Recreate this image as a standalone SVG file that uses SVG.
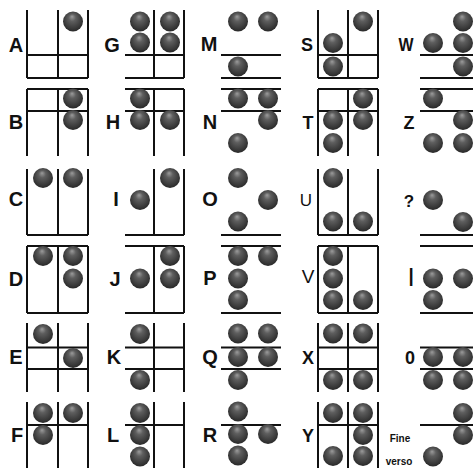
<svg xmlns="http://www.w3.org/2000/svg" width="473" height="468" viewBox="0 0 473 468">
<style>
.ln{stroke:#111;stroke-width:2;fill:none}
.lb{font-family:"Liberation Sans",Arial,sans-serif;font-weight:bold;font-size:20px;text-anchor:middle;fill:#111}
.sm{font-size:18px}
.th{font-weight:normal}
.tx{font-family:"Liberation Sans",Arial,sans-serif;font-weight:bold;font-size:10px;fill:#111;text-anchor:middle}
</style>
<defs>
<radialGradient id="g" cx="0.5" cy="0.45" r="0.6" fx="0.45" fy="0.25">
<stop offset="0" stop-color="#9c9c9c"/>
<stop offset="0.3" stop-color="#5e5e5e"/>
<stop offset="0.75" stop-color="#393939"/>
<stop offset="1" stop-color="#232323"/>
</radialGradient>
<circle id="b" cx="0" cy="0" r="10" fill="url(#g)"/>
</defs>
<rect width="473" height="468" fill="#fff"/>

<!-- Column 1 -->
<g id="sym-A">
<text class="lb" x="16" y="52">A</text>
<path class="ln" d="M27,10V78M58,10V78M88,10V78M27,55H88M27,78H88"/>
<use href="#b" x="73" y="21.5"/>
</g>
<g id="sym-B">
<text class="lb" x="16" y="128.5">B</text>
<path class="ln" d="M27,89V156M58,89V156M88,89V156M27,89H88M27,111H88"/>
<use href="#b" x="73" y="98.5"/><use href="#b" x="73" y="120"/>
</g>
<g id="sym-C">
<text class="lb" x="16" y="206">C</text>
<path class="ln" d="M27,169V235M58,169V235M88,169V235M27,235H88"/>
<use href="#b" x="43" y="178"/><use href="#b" x="73" y="178"/>
</g>
<g id="sym-D">
<text class="lb" x="16" y="286">D</text>
<path class="ln" d="M27,246V313M58,246V313M88,246V313M27,246H88M27,313H88"/>
<use href="#b" x="43" y="256"/><use href="#b" x="73" y="256"/><use href="#b" x="73" y="278.5"/>
</g>
<g id="sym-E">
<text class="lb" x="16" y="364">E</text>
<path class="ln" d="M27,323V392M58,323V392M88,323V392M27,347.5H88M27,369H88"/>
<use href="#b" x="43" y="334"/><use href="#b" x="73" y="358"/>
</g>
<g id="sym-F">
<text class="lb" x="17" y="442">F</text>
<path class="ln" d="M27,402V468M58,402V468M88,402V468M27,425H88"/>
<use href="#b" x="43" y="413"/><use href="#b" x="73" y="413"/><use href="#b" x="43" y="435"/>
</g>

<!-- Column 2 -->
<g id="sym-G">
<text class="lb" x="112" y="52">G</text>
<path class="ln" d="M154,10V78M184,10V78M125,55H184M125,78H184"/>
<use href="#b" x="140" y="21.5"/><use href="#b" x="170" y="21.5"/><use href="#b" x="140" y="42.5"/><use href="#b" x="170" y="42.5"/>
</g>
<g id="sym-H">
<text class="lb" x="113" y="128.5">H</text>
<path class="ln" d="M154,89V156M184,89V156M125,89H184M125,111H184"/>
<use href="#b" x="140" y="98.5"/><use href="#b" x="140" y="120"/><use href="#b" x="170" y="120"/>
</g>
<g id="sym-I">
<text class="lb" x="116" y="206">I</text>
<path class="ln" d="M154,169V235M184,169V235M125,235H184"/>
<use href="#b" x="140" y="200"/><use href="#b" x="170" y="178"/>
</g>
<g id="sym-J">
<text class="lb" x="115" y="286">J</text>
<path class="ln" d="M154,246V313M184,246V313M125,246H184M125,313H184"/>
<use href="#b" x="140" y="278.5"/><use href="#b" x="170" y="256"/><use href="#b" x="170" y="278.5"/>
</g>
<g id="sym-K">
<text class="lb" x="114" y="364">K</text>
<path class="ln" d="M154,323V392M184,323V392M125,347.5H184M125,369H184"/>
<use href="#b" x="140" y="334"/><use href="#b" x="140" y="380"/>
</g>
<g id="sym-L">
<text class="lb" x="113" y="442">L</text>
<path class="ln" d="M154,402V468M184,402V468M125,425H184"/>
<use href="#b" x="140" y="413"/><use href="#b" x="140" y="435"/><use href="#b" x="140" y="456.5"/>
</g>

<!-- Column 3 -->
<g id="sym-M">
<text class="lb" x="209" y="51">M</text>
<path class="ln" d="M221,55H281M221,78H281"/>
<use href="#b" x="238" y="21.5"/><use href="#b" x="268" y="21.5"/><use href="#b" x="238" y="66.5"/>
</g>
<g id="sym-N">
<text class="lb" x="210" y="129">N</text>
<path class="ln" d="M221,89H281M221,111H281"/>
<use href="#b" x="238" y="98.5"/><use href="#b" x="268" y="98.5"/><use href="#b" x="268" y="120"/><use href="#b" x="238" y="143"/>
</g>
<g id="sym-O">
<text class="lb" x="210" y="206">O</text>
<path class="ln" d="M221,235H281"/>
<use href="#b" x="238" y="178"/><use href="#b" x="268" y="200"/><use href="#b" x="238" y="221.5"/>
</g>
<g id="sym-P">
<text class="lb" x="210" y="285">P</text>
<path class="ln" d="M221,246H281M221,313H281"/>
<use href="#b" x="238" y="256"/><use href="#b" x="268" y="256"/><use href="#b" x="238" y="278.5"/><use href="#b" x="238" y="300"/>
</g>
<g id="sym-Q">
<text class="lb" x="210" y="364">Q</text>
<path class="ln" d="M221,347.5H281M221,369H281"/>
<use href="#b" x="238" y="333.5"/><use href="#b" x="268" y="333.5"/><use href="#b" x="238" y="357"/><use href="#b" x="268" y="357"/><use href="#b" x="238" y="380"/>
</g>
<g id="sym-R">
<text class="lb" x="210" y="442">R</text>
<path class="ln" d="M221,425H281"/>
<use href="#b" x="238" y="411.5"/><use href="#b" x="238" y="434"/><use href="#b" x="268" y="434"/><use href="#b" x="238" y="455.5"/>
</g>

<!-- Column 4 -->
<g id="sym-S">
<text class="lb sm" x="307" y="51">S</text>
<path class="ln" d="M318,10V78M348,10V78M378,10V78M318,55H378M318,78H378"/>
<use href="#b" x="363" y="21.5"/><use href="#b" x="333" y="43"/><use href="#b" x="333" y="66.5"/>
</g>
<g id="sym-T">
<text class="lb sm" x="308" y="128.5">T</text>
<path class="ln" d="M318,89V156M348,89V156M378,89V156M318,89H378M318,111H378"/>
<use href="#b" x="363" y="98.5"/><use href="#b" x="333" y="120"/><use href="#b" x="363" y="120"/><use href="#b" x="333" y="143"/>
</g>
<g id="sym-U">
<text class="lb th" style="font-size:17px" x="306" y="206">U</text>
<path class="ln" d="M318,169V235M348,169V235M378,169V235M318,235H378"/>
<use href="#b" x="333" y="178"/><use href="#b" x="333" y="221.5"/><use href="#b" x="363" y="221.5"/>
</g>
<g id="sym-V">
<text class="lb th" style="font-size:19px" x="308" y="283">V</text>
<path class="ln" d="M318,246V313M348,246V313M378,246V313M318,246H378M318,313H378"/>
<use href="#b" x="333" y="256"/><use href="#b" x="333" y="278.5"/><use href="#b" x="333" y="300"/><use href="#b" x="363" y="300"/>
</g>
<g id="sym-X">
<text class="lb sm" x="308" y="363.5">X</text>
<path class="ln" d="M318,323V392M348,323V392M378,323V392M318,347.5H378M318,369H378"/>
<use href="#b" x="333" y="333.5"/><use href="#b" x="363" y="333.5"/><use href="#b" x="333" y="380"/><use href="#b" x="363" y="380"/>
</g>
<g id="sym-Y">
<text class="lb sm" x="308" y="442">Y</text>
<path class="ln" d="M318,402V468M348,402V468M378,402V468M318,425H378"/>
<use href="#b" x="333" y="413"/><use href="#b" x="363" y="413"/><use href="#b" x="363" y="435"/><use href="#b" x="333" y="456"/><use href="#b" x="363" y="456"/>
</g>

<!-- Column 5 -->
<g id="sym-W">
<text class="lb sm" x="406" y="50.5" textLength="15" lengthAdjust="spacingAndGlyphs">W</text>
<path class="ln" d="M420,55H473M420,78H473"/>
<use href="#b" x="433" y="43"/><use href="#b" x="463" y="21.5"/><use href="#b" x="463" y="43"/><use href="#b" x="463" y="66.5"/>
</g>
<g id="sym-Z">
<text class="lb sm" x="409" y="128.5">Z</text>
<path class="ln" d="M420,89H473M420,111H473"/>
<use href="#b" x="433" y="98.5"/><use href="#b" x="463" y="120"/><use href="#b" x="433" y="143"/><use href="#b" x="463" y="143"/>
</g>
<g id="sym-question">
<text class="lb" style="font-size:17px" x="409" y="207">?</text>
<path class="ln" d="M420,235H473"/>
<use href="#b" x="433" y="200"/><use href="#b" x="463" y="222"/>
</g>
<g id="sym-I2">
<text class="lb th" style="font-size:26px" x="411" y="286">I</text>
<path class="ln" d="M420,246H473M420,313H473"/>
<use href="#b" x="433" y="278.5"/><use href="#b" x="463" y="278.5"/><use href="#b" x="433" y="300"/>
</g>
<g id="sym-0">
<text class="lb sm" x="410" y="363.5">0</text>
<path class="ln" d="M420,347.5H473M420,369H473"/>
<use href="#b" x="433" y="357"/><use href="#b" x="463" y="357"/><use href="#b" x="433" y="380"/><use href="#b" x="463" y="380"/>
</g>
<g id="sym-end">
<text class="tx" x="400" y="442">Fine</text>
<text class="tx" x="399" y="465">verso</text>
<path class="ln" d="M420,425H473"/>
<use href="#b" x="463" y="413"/><use href="#b" x="463" y="435"/><use href="#b" x="433" y="456.5"/>
</g>
</svg>
